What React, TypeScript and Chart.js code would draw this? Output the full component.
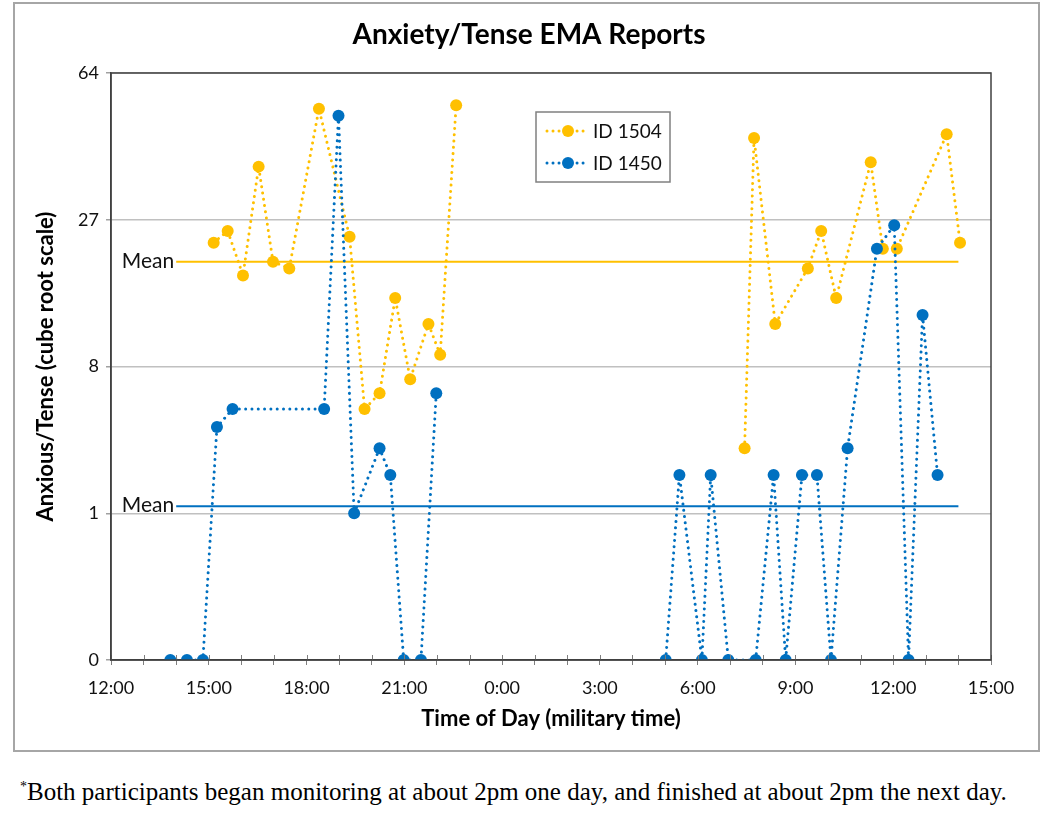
import React, { useEffect, useRef } from 'react';
import { Chart, registerables } from 'chart.js';

Chart.register(...registerables);

const TITLE = 'Anxiety/Tense EMA Reports';
const X_TITLE = 'Time of Day (military time)';
const Y_TITLE = 'Anxious/Tense (cube root scale)';
const FOOTNOTE = 'Both participants began monitoring at about 2pm one day, and finished at about 2pm the next day.';
const MEAN_LABEL = 'Mean';

// x = hours after 12:00 on the first day
const xTickLabels = ['12:00', '15:00', '18:00', '21:00', '0:00', '3:00', '6:00', '9:00', '12:00', '15:00'];
const yTickLabels = ['0', '1', '8', '27', '64'];

const seriesNames = ['ID 1504', 'ID 1450'];

const id1504Hours = [3.15, 3.58, 4.05, 4.53, 4.97, 5.47, 6.38, 7.32, 7.78, 8.24, 8.72, 9.18, 9.74, 10.10, 10.59,
  14.0,
  19.44, 19.73, 20.38, 21.38, 21.79, 22.25, 23.31, 23.68, 24.11, 25.64, 26.05];
const id1504Values = [23, 25, 18, 38, 20, 19, 53, 24, 5, 6, 15, 7, 12, 9, 54,
  null,
  3, 45, 12, 19, 25, 15, 39, 22, 22, 46, 23];

const id1450Hours = [1.82, 2.33, 2.82, 3.25, 3.73, 6.54, 6.98, 7.46, 8.24, 8.57, 8.98, 9.51, 9.98,
  13.5,
  17.02, 17.44, 18.13, 18.40, 18.94, 19.78, 20.33, 20.70, 21.20, 21.66, 22.09, 22.60, 23.50, 24.03, 24.47, 24.90, 25.36];
const id1450Values = [0, 0, 0, 4, 5, 5, 51, 1, 3, 2, 0, 0, 6,
  null,
  0, 2, 0, 2, 0, 0, 2, 0, 2, 2, 0, 3, 22, 26, 0, 13, 2];

const id1504Mean = 20;
const id1450Mean = 1.15;
const meanSpanHours = [2, 26];

const ORANGE = '#FFC000';
const BLUE = '#0070C0';
const FONT = 'Lato, "Open Sans", sans-serif';

const toPoints = (hours: number[], values: (number | null)[]) =>
  hours.map((h, i) => ({ x: h, y: values[i] === null ? null : Math.cbrt(values[i] as number) }));

export default function App() {
  const ref = useRef<HTMLCanvasElement | null>(null);

  useEffect(() => {
    document.body.style.margin = '0';
    const canvas = ref.current;
    if (!canvas) return;

    const decor = {
      id: 'decor',
      afterDraw(chart: any) {
        const { ctx, chartArea: a, scales } = chart;
        const xs = scales.x;
        const ys = scales.y;
        ctx.save();
        // tick marks above axis
        ctx.strokeStyle = '#7f7f7f';
        ctx.lineWidth = 1;
        for (let h = 0; h <= 27; h++) {
          const px = Math.round(xs.getPixelForValue(h)) + 0.5;
          ctx.beginPath();
          ctx.moveTo(px, a.bottom - 5);
          ctx.lineTo(px, a.bottom);
          ctx.stroke();
        }
        // frame
        ctx.strokeStyle = '#404040';
        ctx.lineWidth = 1.5;
        ctx.strokeRect(a.left, a.top, a.right - a.left, a.bottom - a.top);

        // mean labels
        ctx.font = `21px ${FONT}`;
        ctx.fillStyle = '#111';
        ctx.textAlign = 'right';
        ctx.textBaseline = 'middle';
        const mx = xs.getPixelForValue(meanSpanHours[0]) - 2;
        ctx.fillText(MEAN_LABEL, mx, ys.getPixelForValue(Math.cbrt(id1504Mean)));
        ctx.fillText(MEAN_LABEL, mx, ys.getPixelForValue(Math.cbrt(id1450Mean)) - 1);

        // title
        ctx.font = `bold 28px ${FONT}`;
        ctx.textAlign = 'center';
        ctx.fillStyle = '#000';
        ctx.fillText(TITLE, 529, 35);

        // legend
        const lx = 536, ly = 112, lw = 134, lh = 70;
        ctx.fillStyle = '#fff';
        ctx.fillRect(lx, ly, lw, lh);
        ctx.strokeStyle = '#808080';
        ctx.lineWidth = 1.5;
        ctx.strokeRect(lx, ly, lw, lh);
        const colors = [ORANGE, BLUE];
        seriesNames.forEach((name, i) => {
          const y = ly + 19 + i * 32;
          ctx.strokeStyle = colors[i];
          ctx.lineWidth = 3;
          ctx.lineCap = 'round';
          ctx.setLineDash([0.01, 6]);
          ctx.beginPath();
          ctx.moveTo(lx + 11, y);
          ctx.lineTo(lx + 51, y);
          ctx.stroke();
          ctx.setLineDash([]);
          ctx.fillStyle = colors[i];
          ctx.beginPath();
          ctx.arc(lx + 32, y, 6, 0, Math.PI * 2);
          ctx.fill();
          ctx.fillStyle = '#111';
          ctx.font = `19px ${FONT}`;
          ctx.textAlign = 'left';
          ctx.fillText(name, lx + 57, y + 1);
        });
        ctx.restore();
      },
    };

    const dotted = {
      borderWidth: 3,
      borderDash: [0.01, 6.3],
      borderCapStyle: 'round',
      pointRadius: 6,
      pointBorderWidth: 0,
      tension: 0,
      spanGaps: false,
    };

    const chart = new Chart(canvas, {
      type: 'line',
      data: {
        datasets: [
          {
            label: seriesNames[1],
            data: toPoints(id1450Hours, id1450Values),
            borderColor: BLUE,
            backgroundColor: BLUE,
            pointBackgroundColor: BLUE,
            ...dotted,
          },
          {
            label: seriesNames[0],
            data: toPoints(id1504Hours, id1504Values),
            borderColor: ORANGE,
            backgroundColor: ORANGE,
            pointBackgroundColor: ORANGE,
            ...dotted,
          },
          {
            label: 'mean1450',
            data: meanSpanHours.map((h) => ({ x: h, y: Math.cbrt(id1450Mean) })),
            borderColor: BLUE,
            borderWidth: 2,
            pointRadius: 0,
          },
          {
            label: 'mean1504',
            data: meanSpanHours.map((h) => ({ x: h, y: Math.cbrt(id1504Mean) })),
            borderColor: ORANGE,
            borderWidth: 2,
            pointRadius: 0,
          },
        ],
      } as any,
      options: {
        animation: false,
        responsive: false,
        devicePixelRatio: 1,
        layout: { padding: { top: 73, right: 59, bottom: 10, left: 0 } },
        plugins: {
          legend: { display: false },
          title: { display: false },
          tooltip: { enabled: false },
        },
        scales: {
          x: {
            type: 'linear',
            min: 0,
            max: 27,
            afterFit: (s: any) => { s.height = 90; },
            ticks: {
              stepSize: 1,
              autoSkip: false,
              maxRotation: 0,
              padding: 12,
              color: '#111',
              font: { family: FONT, size: 18 },
              callback: (v: any) => (Number(v) % 3 === 0 ? xTickLabels[Number(v) / 3] : ''),
            },
            grid: { drawOnChartArea: false, tickLength: 5, color: '#7f7f7f', lineWidth: 1 },
            border: { display: true, color: '#404040', width: 1.5 },
            title: {
              display: true,
              text: X_TITLE,
              color: '#000',
              font: { family: FONT, size: 22, weight: 'bold' },
              padding: { top: 0, bottom: 18 },
            },
          },
          y: {
            type: 'linear',
            min: 0,
            max: 4,
            afterFit: (s: any) => { s.width = 111; },
            ticks: {
              stepSize: 1,
              padding: 7,
              color: '#111',
              font: { family: FONT, size: 18 },
              callback: (v: any) => yTickLabels[Number(v)] ?? '',
            },
            grid: { color: '#c0c0c0', lineWidth: 1.5, tickLength: 5, tickColor: '#a0a0a0' },
            border: { display: true, color: '#404040', width: 1.5 },
            title: {
              display: true,
              text: Y_TITLE,
              color: '#000',
              font: { family: FONT, size: 22, weight: 'bold' },
              padding: { top: 33, bottom: 0 },
            },
          },
        },
      } as any,
      plugins: [decor],
    });
    return () => chart.destroy();
  }, []);

  return (
    <div style={{ position: 'relative', width: 1050, height: 814, background: '#fff', overflow: 'hidden' }}>
      <canvas ref={ref} width={1050} height={760} style={{ position: 'absolute', left: 0, top: 0 }} />
      <div
        style={{
          position: 'absolute', left: 13, top: 2, width: 1027, height: 750,
          border: '2px solid #a6a6a6', boxSizing: 'border-box', pointerEvents: 'none',
        }}
      />
      <div
        style={{
          position: 'absolute', left: 20, top: 778, whiteSpace: 'nowrap',
          fontFamily: '"Liberation Serif", "Times New Roman", serif', fontSize: 25, color: '#000',
        }}
      >
        <sup style={{ fontSize: 14 }}>*</sup>{FOOTNOTE}
      </div>
    </div>
  );
}
